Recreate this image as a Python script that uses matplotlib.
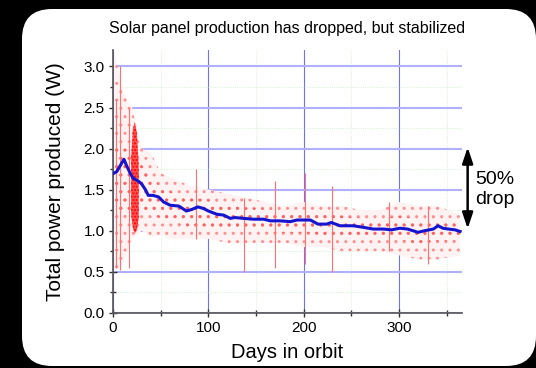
import matplotlib.pyplot as plt
from matplotlib.patches import FancyBboxPatch
from matplotlib.ticker import MultipleLocator

plt.rcParams['font.family'] = ['Liberation Sans', 'DejaVu Sans']
plt.rcParams['hatch.linewidth'] = 1.0

# smoothed production (blue line)
trend_day = [1, 4, 8, 11.5, 14, 18, 21, 27, 30, 34, 37, 42, 48, 53, 60, 69, 77, 83, 89, 95,
             100, 109, 116, 123, 128, 137, 147, 158, 165, 175, 186, 193, 207, 215, 224, 229,
             238, 252, 263, 273, 284, 292, 301, 309, 320, 327, 336, 341, 346, 352, 359, 364]
trend_w = [1.70, 1.72, 1.80, 1.87, 1.80, 1.70, 1.64, 1.60, 1.57, 1.50, 1.43, 1.43, 1.41, 1.35,
           1.31, 1.30, 1.24, 1.26, 1.29, 1.27, 1.24, 1.20, 1.19, 1.15, 1.16, 1.15, 1.14, 1.14,
           1.12, 1.12, 1.11, 1.13, 1.13, 1.08, 1.08, 1.10, 1.06, 1.06, 1.04, 1.02, 1.02, 1.01,
           1.03, 1.02, 0.98, 1.00, 1.02, 1.06, 1.03, 1.02, 1.01, 0.99]

# extent of the raw sample cloud
cloud_day = [1, 10, 20, 30, 40, 50, 60, 80, 100, 120, 140, 160, 180, 200, 220, 240, 260, 280,
             300, 320, 340, 364]
cloud_lo = [0.50, 0.60, 0.90, 1.00, 0.92, 0.95, 0.90, 0.90, 0.90, 0.85, 0.85, 0.85, 0.85, 0.80,
            0.80, 0.75, 0.75, 0.75, 0.70, 0.65, 0.65, 0.70]
cloud_hi = [3.20, 2.70, 2.50, 2.00, 1.95, 1.70, 1.65, 1.55, 1.50, 1.45, 1.40, 1.35, 1.30, 1.35,
            1.30, 1.30, 1.25, 1.25, 1.35, 1.30, 1.30, 1.20]
# denser middle part of the cloud
core_lo = [1.20, 1.20, 1.15, 1.25, 1.20, 1.15, 1.10, 1.05, 1.05, 1.00, 1.00, 0.98, 0.97, 0.97,
           0.95, 0.93, 0.92, 0.90, 0.88, 0.85, 0.87, 0.88]
core_hi = [2.20, 2.00, 2.00, 1.80, 1.65, 1.55, 1.48, 1.40, 1.38, 1.33, 1.28, 1.27, 1.25, 1.25,
           1.22, 1.18, 1.16, 1.15, 1.18, 1.15, 1.16, 1.12]

# very dense burst around day 20-26
burst_day = [19, 21, 23, 25, 27]
burst_lo = [1.20, 1.02, 0.97, 1.00, 1.15]
burst_hi = [1.90, 2.25, 2.32, 2.20, 1.80]

# vertical streaks of samples
spike_day = [3, 7, 17, 87, 137, 170, 201, 230, 290, 330]
spike_lo = [0.55, 0.52, 0.55, 0.90, 0.50, 0.55, 0.60, 0.50, 0.75, 0.60]
spike_hi = [2.60, 3.00, 2.50, 1.75, 1.40, 1.60, 1.70, 1.55, 1.35, 1.30]

fig = plt.figure(figsize=(5.36, 3.68), dpi=100, facecolor='black')
card = FancyBboxPatch((22, 2), 514, 357, boxstyle='round,pad=0,rounding_size=30',
                      transform=None, facecolor='white', edgecolor='none', zorder=-10)
fig.add_artist(card)

ax = fig.add_axes([0.2108, 0.150, 0.651, 0.714])
ax.set_facecolor('none')

ax.fill_between(cloud_day, cloud_lo, cloud_hi, facecolor='#fff2f2', edgecolor='#ff9090',
                hatch='..', linewidth=0, zorder=1)
ax.fill_between(cloud_day, core_lo, core_hi, facecolor='none', edgecolor='#ff6060',
                hatch='..', linewidth=0, zorder=2)
ax.fill_between(burst_day, burst_lo, burst_hi, facecolor='#ff5050', edgecolor='#ff0000',
                hatch='.....', linewidth=0, zorder=3)
ax.vlines(spike_day, spike_lo, spike_hi, color='#ff7070', linewidth=0.8, zorder=3)

ax.plot(trend_day, trend_w, color='#1515d0', linewidth=2.2, zorder=5)

ax.set_xlim(0, 366)
ax.set_ylim(0, 3.2)
ax.xaxis.set_major_locator(MultipleLocator(100))
ax.xaxis.set_minor_locator(MultipleLocator(50))
ax.yaxis.set_major_locator(MultipleLocator(0.5))
ax.yaxis.set_minor_locator(MultipleLocator(0.25))
ax.yaxis.set_major_formatter('{x:.1f}')

ax.grid(which='major', axis='y', color='#b0b0ff', linewidth=1.5, zorder=0)
ax.grid(which='major', axis='x', color='#7070ff', linewidth=0.8, zorder=0)
ax.grid(which='minor', color='#c8f0c8', linewidth=0.6, linestyle=':', zorder=0)
ax.set_axisbelow(True)

for s in ['top', 'right']:
    ax.spines[s].set_visible(False)
for s in ['left', 'bottom']:
    ax.spines[s].set_color('#555555')
    ax.spines[s].set_linewidth(1.2)
ax.tick_params(which='major', direction='inout', length=6, width=1, color='#333333',
               labelsize=11, pad=3)
ax.tick_params(which='minor', direction='inout', length=4, width=1, color='#333333')

ax.set_title('Solar panel production has dropped, but stabilized', fontsize=11.5, pad=12)
ax.set_ylabel('Total power produced (W)', fontsize=15, labelpad=13)
ax.set_xlabel('Days in orbit', fontsize=14.5, labelpad=6)

ax.annotate('', xy=(372, 2.05), xytext=(372, 0.99),
            arrowprops=dict(arrowstyle='<|-|>,head_width=0.2,head_length=0.6', color='black',
                            lw=1.8, mutation_scale=16),
            annotation_clip=False)
ax.text(400, 1.5, '50%\ndrop', fontsize=14, ha='center', va='center', linespacing=1.2)

fig.savefig('out.png', dpi=100, facecolor='black')
